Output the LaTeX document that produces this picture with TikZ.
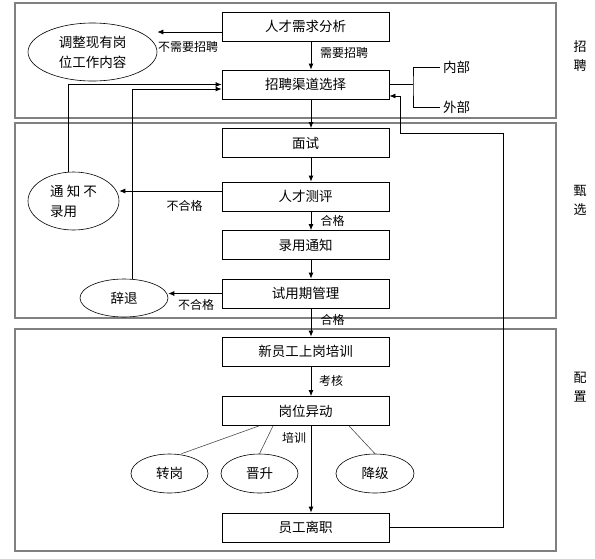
\documentclass[tikz,border=0pt]{standalone}
\usepackage{fontspec}
\setmainfont{Noto Sans CJK SC}
\usetikzlibrary{arrows.meta,positioning,shapes.geometric}

\begin{document}
\begin{tikzpicture}[
  x=1pt, y=-1pt,
  font=\fontsize{13.5}{20}\selectfont,
  box/.style={draw, line width=0.8pt, minimum width=167pt, minimum height=29pt, inner sep=0pt},
  oval/.style={draw, ellipse, line width=0.6pt, inner sep=0pt, align=left},
  panel/.style={draw=black!50, line width=1.1pt},
  arr/.style={-{Latex[length=6pt,width=5pt]}, line width=0.8pt},
  lbl/.style={font=\fontsize{12}{14}\selectfont, inner sep=0pt},
  side/.style={align=center, inner sep=0pt, font=\fontsize{13}{19}\selectfont},
  twig/.style={draw=black!70, line width=0.6pt}
]
  \useasboundingbox (0,0) rectangle (595,558);
  % three stages
  \draw[panel] (15,3) rectangle (556,118);
  \draw[panel] (15,123) rectangle (556,318);
  \draw[panel] (15,329) rectangle (556,551);
  \node[side] (s1) at (580,56) {招\\聘};
  \node[side] (s2) at (580,200) {甄\\选};
  \node[side] (s3) at (580,387) {配\\置};

  % main flow
  \node[box] (need) at (305.5,26.5) {人才需求分析};
  \node[box] (channel) at (305.5,84.5) {招聘渠道选择};
  \node[box] (interview) at (305.5,143) {面试};
  \node[box] (assess) at (305.5,196.5) {人才测评};
  \node[box] (notice) at (305.5,245) {录用通知};
  \node[box] (trial) at (305.5,293.5) {试用期管理};
  \node[box] (train) at (305.5,351.5) {新员工上岗培训};
  \node[box] (move) at (305.5,411) {岗位异动};
  \node[box] (leave) at (305.5,527.5) {员工离职};

  % side outcomes
  \node[oval, minimum width=129pt, minimum height=58pt] (adjust) at (92.5,52) {调整现有岗\\位工作内容};
  \node[oval, minimum width=91pt, minimum height=58pt] (reject) at (73.5,201) {通 知 不\\录用};
  \node[oval, minimum width=88pt, minimum height=38pt] (dismiss) at (124,298) {辞退};
  \node[oval, minimum width=77pt, minimum height=39pt] (transfer) at (169.5,473.5) {转岗};
  \node[oval, minimum width=77pt, minimum height=39pt] (promote) at (259.5,473.5) {晋升};
  \node[oval, minimum width=78pt, minimum height=39pt] (demote) at (375,473.5) {降级};
  \node[anchor=west, inner sep=3pt] (inner) at (440,67) {内部};
  \node[anchor=west, inner sep=3pt] (outer) at (440,107) {外部};

  % arrows down the middle
  \draw[arr] ([xshift=5.5pt]need.south) -- ([xshift=5.5pt]channel.north);
  \draw[arr] ([xshift=5.5pt]channel.south) -- ([xshift=5.5pt]interview.north);
  \draw[arr] ([xshift=5.5pt]interview.south) -- ([xshift=5.5pt]assess.north);
  \draw[arr] ([xshift=5.5pt]assess.south) -- ([xshift=5.5pt]notice.north);
  \draw[arr] ([xshift=5.5pt]notice.south) -- ([xshift=5.5pt]trial.north);
  \draw[arr] ([xshift=5.5pt]trial.south) -- ([xshift=5.5pt]train.north);
  \draw[arr] ([xshift=5.5pt]train.south) -- ([xshift=5.5pt]move.north);
  \draw[arr] ([xshift=5.5pt]move.south) -- ([xshift=5.5pt]leave.north);

  % arrows to the left
  \coordinate (needout) at ([yshift=-5.5pt]need.west);
  \coordinate (failout) at ([yshift=5.5pt]assess.west);
  \draw[arr] (needout) -- (needout -| adjust.east);
  \draw[arr] (failout) -- (failout -| reject.east);
  \draw[arr] (trial.west) -- (trial.west -| dismiss.east);
  \draw[arr] ([xshift=-5.5pt]reject.north) |- (channel.west);
  \draw[arr] ([xshift=8pt]dismiss.north) |- ([yshift=-4.5pt]channel.west);

  % internal / external
  \coordinate (fork) at (413,84.5);
  \draw[line width=0.8pt] (channel.east) -- (fork);
  \draw[line width=0.8pt] (inner.west) -| (fork) |- (outer.west);

  % back to channel choice
  \draw[arr] (leave.east) -| (503,133) -| (400,96) -- ([yshift=-11.5pt]channel.east);

  % job changes
  \draw[twig] ([xshift=-46.5pt]move.south) -- ([xshift=12pt]transfer.north);
  \draw[twig] ([xshift=-32.5pt]move.south) -- (promote.north);
  \draw[twig] ([xshift=43.5pt]move.south) -- (demote.north);

  % labels
  \node[lbl] (l1) at (188,47) {不需要招聘};
  \node[lbl] (l2) at (344,53) {需要招聘};
  \node[lbl] (l3) at (184.5,206) {不合格};
  \node[lbl] (l4) at (332.5,221) {合格};
  \node[lbl] (l5) at (196,305) {不合格};
  \node[lbl] (l6) at (332.5,320) {合格};
  \node[lbl] (l7) at (331,381) {考核};
  \node[lbl] (l8) at (294,438) {培训};
\end{tikzpicture}
\end{document}
